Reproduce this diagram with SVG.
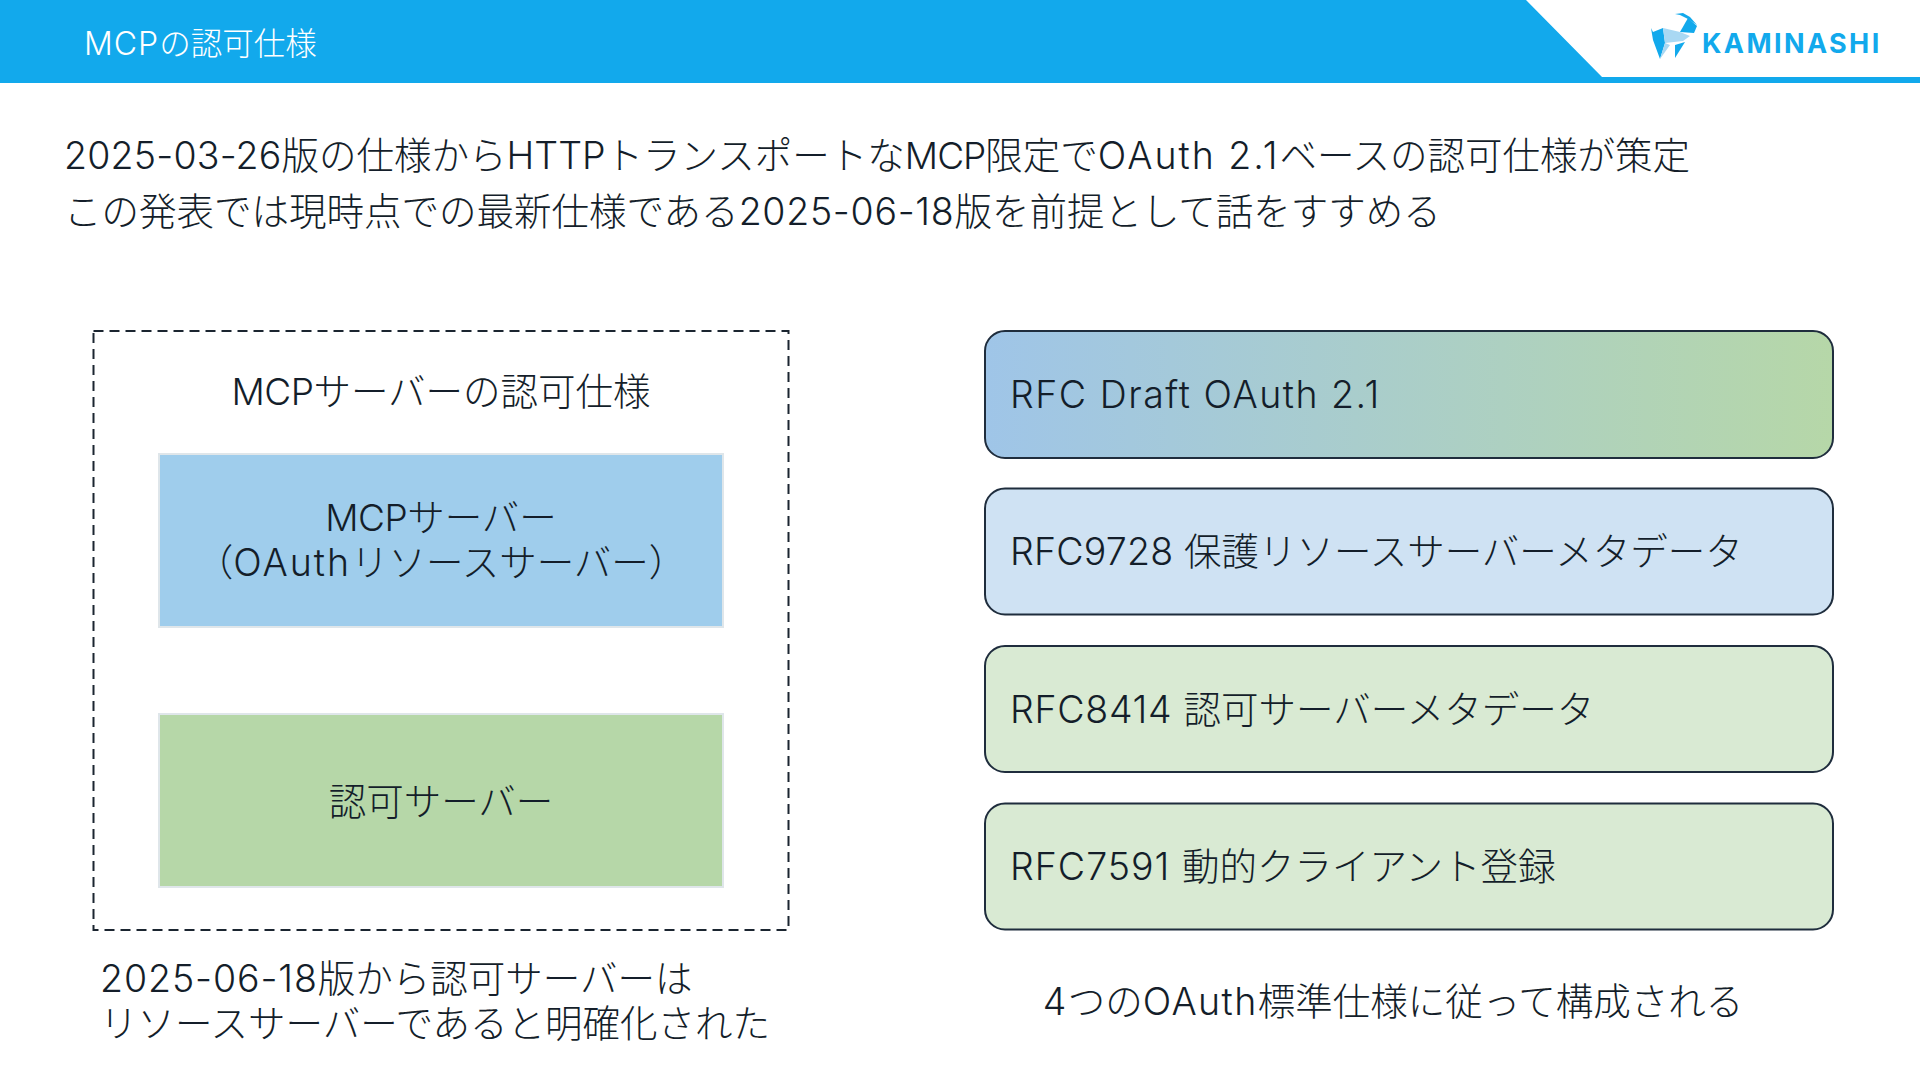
<svg xmlns="http://www.w3.org/2000/svg" width="1920" height="1080" viewBox="0 0 1920 1080">
<style>
text{font-family:"Inter","Noto Sans CJK JP",sans-serif;fill:#141e2a;font-size:37.500px;font-weight:300}
tspan{font-size:37.500px;letter-spacing:1.400px}
tspan.c{letter-spacing:0.200px}
tspan.n{font-size:37px;letter-spacing:-0.500px}
.m{text-anchor:middle}
.rfc{stroke:#1f2d3d;stroke-width:2}
.box{stroke:#dfe6ea;stroke-width:2}
.w{fill:#fff;font-size:31.500px}
.w tspan{font-size:32px;letter-spacing:1px}
.b{fill:#12a9ec}
.lb{fill:#a9d8f3}
</style>
<defs><linearGradient id="g" x1="0" x2="1" y1="0" y2="0"><stop offset="0" stop-color="#9fc5e8"/><stop offset="1" stop-color="#b6d7a8"/></linearGradient></defs>
<rect width="1920" height="1080" fill="#fff"/>
<g id="header">
<polygon points="0,0 1526,0 1602,77 1920,77 1920,83 0,83" fill="#12a9ec"/>
<text class="w" x="84" y="55"><tspan>MCP</tspan>の認可仕様</text>
</g>
<g id="logo">
<polygon class="b" points="1651,28 1653,32 1663,28 1665,43 1660,59 1653,40"/>
<polygon class="lb" points="1663,28 1680,32 1690,36 1683,41 1665,43"/>
<polygon class="lb" points="1665,43 1670,45 1660,59"/>
<polygon class="b" points="1685,42 1675,58 1675,45"/>
<polygon class="b" points="1680,32 1688,18 1697,26 1694,33"/>
<polygon class="b" points="1675,14 1683,13 1690,17 1697,25 1688,19 1680,15"/>
<text x="1702" y="53" style="fill:#12a9ec;font-size:27px;font-weight:700;letter-spacing:2.400px">KAMINASHI</text>
</g>
<g id="intro">
<text x="64" y="169"><tspan class="c">2025-03-26</tspan>版の仕様から<tspan style="letter-spacing:0">HTTP</tspan>トランスポートな<tspan class="n" style="letter-spacing:-1px">MCP</tspan>限定で<tspan style="letter-spacing:2px">OAuth 2.1</tspan>ベースの認可仕様が策定</text>
<text x="64" y="225">この発表では現時点での最新仕様である<tspan style="letter-spacing:.7px">2025-06-18</tspan>版を前提として話をすすめる</text>
</g>
<g id="group">
<rect x="93.500" y="331" width="695" height="599" fill="none" stroke="#1b2530" stroke-width="2" stroke-dasharray="10 6"/>
<text class="m" x="441" y="404.500"><tspan class="n">MCP</tspan>サーバーの認可仕様</text>
</g>
<g id="mcp-server">
<rect class="box" x="159" y="454" width="564" height="173" fill="#9fcdec"/>
<text class="m" x="441" y="530.500"><tspan class="n">MCP</tspan>サーバー</text>
<text class="m" x="441" y="575.500">（<tspan style="letter-spacing:2px">OAuth</tspan>リソースサーバー）</text>
</g>
<g id="auth-server">
<rect class="box" x="159" y="714" width="564" height="173" fill="#b6d7a8"/>
<text class="m" x="441" y="814.500">認可サーバー</text>
</g>
<g id="rfc-draft">
<rect class="rfc" x="985" y="331" width="848" height="127" rx="20" fill="url(#g)"/>
<text x="1010" y="408"><tspan style="letter-spacing:1.500px">RFC Draft OAuth 2.1</tspan></text>
</g>
<g id="rfc9728">
<rect class="rfc" x="985" y="488.500" width="848" height="126" rx="20" fill="#cfe2f3"/>
<text x="1010" y="565"><tspan class="c">RFC9728 </tspan>保護リソースサーバーメタデータ</text>
</g>
<g id="rfc8414">
<rect class="rfc" x="985" y="646" width="848" height="126" rx="20" fill="#d9ead3"/>
<text x="1010" y="723"><tspan style="letter-spacing:.7px">RFC8414 </tspan>認可サーバーメタデータ</text>
</g>
<g id="rfc7591">
<rect class="rfc" x="985" y="803.500" width="848" height="126" rx="20" fill="#d9ead3"/>
<text x="1010" y="880"><tspan style="letter-spacing:1px">RFC7591 </tspan>動的クライアント登録</text>
</g>
<g id="notes">
<text x="100" y="992"><tspan style="letter-spacing:.9px">2025-06-18</tspan>版から認可サーバーは</text>
<text x="100" y="1037">リソースサーバーであると明確化された</text>
<text class="m" x="1393" y="1015"><tspan>4</tspan>つの<tspan>OAuth</tspan>標準仕様に従って構成される</text>
</g>
</svg>
